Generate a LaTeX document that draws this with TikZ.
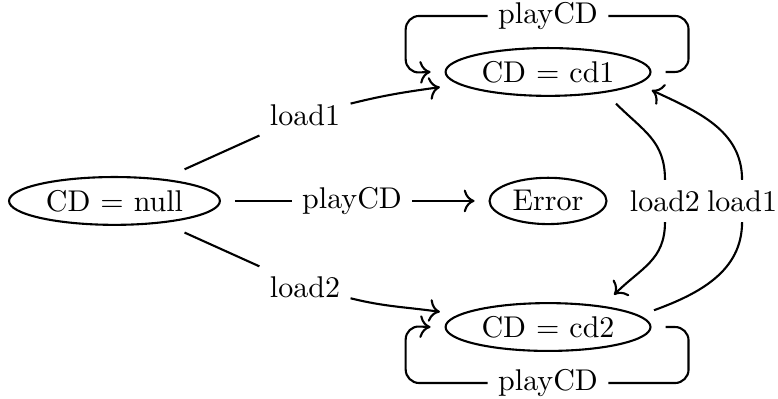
\documentclass[tikz,border=0pt]{standalone}
\usetikzlibrary{arrows.meta, positioning, shapes.geometric}

\begin{document}
\begin{tikzpicture}[
    state/.style={draw, ellipse, line width=0.7pt, inner sep=2pt, outer sep=5pt},
    lbl/.style={inner sep=3.33pt},
    line/.style={line width=0.7pt},
    arrow/.style={-{To[scale=1.15]}, line width=0.7pt},
    roundpath/.style={rounded corners=4.5pt}
]
\useasboundingbox (0,0) rectangle (9.114,4.674);

% Zustaende
\node[state] (null) at (1.341,2.320) {CD $=$ null};
\node[state] (err) at (6.420,2.320) {Error};
\node[state] (cd1) at (6.420,3.831) {CD $=$ cd1};
\node[state] (cd2) at (6.420,0.843) {CD $=$ cd2};

% Beschriftungen
\node[lbl] (ld1) at (3.573,3.327) {load1};
\node[lbl] (pmid) at (4.124,2.320) {playCD};
\node[lbl] (ld2) at (3.573,1.313) {load2};
\node[lbl] (rl2) at (7.790,2.320) {load2};
\node[lbl] (rl1) at (8.693,2.320) {load1};
\node[lbl] (ptop) at (6.420,4.487) {playCD};
\node[lbl] (pbot) at (6.420,0.187) {playCD};

% von CD = null aus
\draw[line] (null) -- (ld1);
\draw[arrow] (ld1) to[out=14, in=188] (cd1);
\draw[line] (null) -- (pmid);
\draw[arrow] (pmid) -- (err);
\draw[line] (null) -- (ld2);
\draw[arrow] (ld2) to[out=-14, in=172] (cd2);

% zwischen cd1 und cd2
\draw[line] (cd1.-25) to[out=-45, in=90, looseness=1.1] (rl2.north);
\draw[arrow] (rl2.south) to[out=-90, in=45, looseness=1.1] (cd2.26);
\draw[line] (cd2.9) to[out=20, in=-90] (rl1.south);
\draw[arrow] (rl1.north) to[out=90, in=-25] (cd1.-10);

% Schleifen
\draw[line, roundpath] (cd1.east) -- ++(0.27,0) |- (ptop.east);
\draw[arrow, roundpath] (ptop.west) -| ++(-0.96,-0.668) -- (cd1.west);
\draw[line, roundpath] (cd2.east) -- ++(0.27,0) |- (pbot.east);
\draw[arrow, roundpath] (pbot.west) -| ++(-0.96,0.668) -- (cd2.west);

\end{tikzpicture}
\end{document}
